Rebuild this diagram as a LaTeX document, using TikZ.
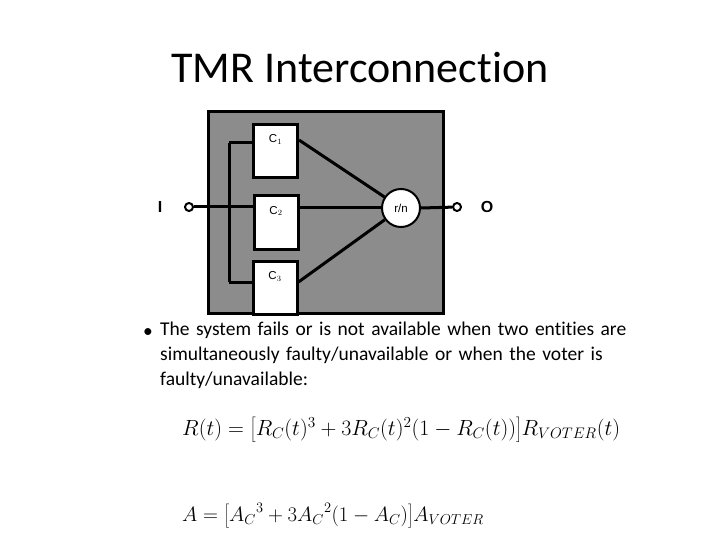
\documentclass[tikz,border=0pt]{standalone}
\usepackage{fontspec}
\setmainfont{Carlito}[Ligatures={NoCommon}]
\newfontfamily\arialfont{Liberation Sans}
\usetikzlibrary{calc}
\tikzset{
  unit/.style={draw, line width=3pt, fill=white, minimum width=44pt, minimum height=53pt, inner sep=0pt},
  wire/.style={line width=3pt},
  port/.style={circle, draw, line width=2pt, fill=white, minimum size=8pt, inner sep=0pt},
  clabel/.style={font=\arialfont\fontsize{11.5}{12}\selectfont}
}
\begin{document}
\begin{tikzpicture}[x=1pt,y=-1pt]
  \useasboundingbox (0,0) rectangle (720,540);
  \node[font=\fontsize{44}{50}\selectfont] (title) at (360,68) {TMR Interconnection};
  % shaded module
  \draw[line width=3pt, fill=black!45] (208,112) rectangle (443,313);
  \node[unit, label={[clabel, anchor=north, yshift=-8pt]north:C$_1$}] (c1) at (275.5,151) {};
  \node[unit, label={[clabel, anchor=north, yshift=-8pt]north:C$_2$}] (c2) at (276,222.5) {};
  \node[unit, label={[clabel, anchor=north, yshift=-8pt]north:C$_3$}] (c3) at (275,288) {};
  \node[circle, draw, line width=2pt, fill=white, minimum size=38pt, inner sep=0pt, clabel] (voter) at (401,208) {r/n};
  \node[port] (in) at (189,207) {};
  \node[port] (out) at (457,207) {};
  \node[font=\arialfont\bfseries\fontsize{16}{16}\selectfont] (ilabel) at (160,207) {I};
  \node[font=\arialfont\bfseries\fontsize{16}{16}\selectfont] (olabel) at (487,207) {O};
  % input bus
  \coordinate (b1) at (229,143);
  \coordinate (b2) at (229,207);
  \coordinate (b3) at (229,282);
  \draw[wire] (in) -- (b2);
  \draw[wire] (b1) -- (b3);
  \draw[wire] (b1) -- (b1 -| c1.west);
  \draw[wire] (b2) -- (b2 -| c2.west);
  \draw[wire] (b3) -- (b3 -| c3.west);
  % to voter
  \draw[wire] ($(c1.east)+(0,-11)$) -- (voter);
  \draw[wire] (c2.east |- voter.west) -- (voter.west);
  \draw[wire] ($(c3.east)+(0,-6)$) -- (voter);
  \draw[wire] (voter.east) -- (out);
  % text
  \node[font=\fontsize{19.5}{25}\selectfont] (bullet) at (148,333) {•};
  \node[anchor=north west, text width=480pt, align=left, inner sep=0pt,
        font=\fontsize{19.5}{25}\selectfont] (body) at (160,322)
    {The system fails or is not available when two entities are simultaneously faulty/unavailable or when the voter is faulty/unavailable:};
  \node[anchor=west, inner sep=0pt, scale=1.06, transform shape, font=\fontsize{22}{26}\selectfont] (eqr) at (182,430)
    {$R(t) = \left[\vphantom{\Big|}R_C(t)^3 + 3R_C(t)^2(1 - R_C(t))\right]\!R_{VOTER}(t)$};
  \node[anchor=west, inner sep=0pt, font=\fontsize{22}{26}\selectfont] (eqa) at (182,516)
    {$A = \left[\vphantom{\Big|}{A_C}^3 + 3{A_C}^2(1 - A_C)\right]\!A_{VOTER}$};
\end{tikzpicture}
\end{document}
